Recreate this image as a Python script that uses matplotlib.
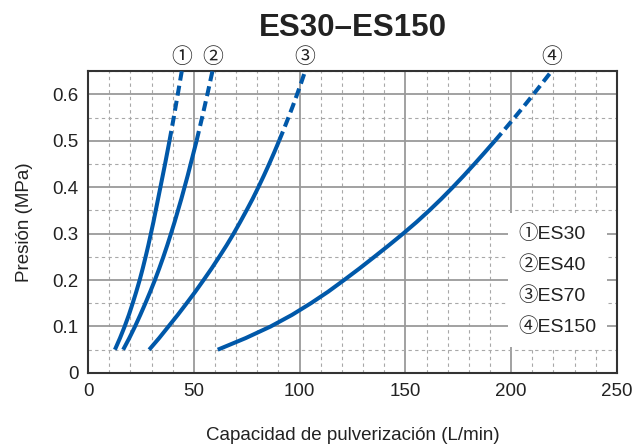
import matplotlib
matplotlib.use("Agg")
import matplotlib.pyplot as plt
from matplotlib.patches import Rectangle
from matplotlib.ticker import MultipleLocator

plt.rcParams['font.family'] = ['Liberation Sans', 'Noto Sans CJK JP', 'DejaVu Sans']

# pressure levels (MPa), 0.05 to 0.65 in steps of 0.025
pressure = [0.050, 0.075, 0.100, 0.125, 0.150, 0.175, 0.200, 0.225, 0.250,
            0.275, 0.300, 0.325, 0.350, 0.375, 0.400, 0.425, 0.450, 0.475,
            0.500, 0.525, 0.550, 0.575, 0.600, 0.625, 0.650]

# spray capacity (L/min) at each pressure level
es30 = [12.7, 15.1, 17.3, 19.3, 21.1, 22.8, 24.4, 25.85, 27.2, 28.5, 29.7,
        30.9, 32.0, 33.1, 34.2, 35.3, 36.4, 37.45, 38.5, 39.5, 40.5, 41.45,
        42.4, 43.35, 44.3]
es40 = [16.6, 19.5, 22.2, 24.7, 27.1, 29.4, 31.6, 33.65, 35.6, 37.45, 39.2,
        40.9, 42.5, 44.1, 45.6, 47.1, 48.5, 49.9, 51.3, 52.6, 53.9, 55.15,
        56.4, 57.6, 58.8]
es70 = [28.9, 33.6, 38.0, 42.4, 46.6, 50.7, 54.6, 58.4, 62.0, 65.5, 68.8,
        71.9, 74.9, 77.8, 80.5, 83.1, 85.6, 88.0, 90.3, 92.55, 94.7, 96.8,
        98.8, 100.75, 102.6]
es150 = [61.3, 74.5, 86.3, 96.4, 105.3, 113.5, 121.0, 128.3, 135.3, 142.2,
         148.9, 155.3, 161.3, 167.0, 172.4, 177.6, 182.6, 187.5, 192.3,
         197.0, 201.6, 206.1, 210.5, 214.8, 219.1]

series = [es30, es40, es70, es150]
marks = ['①', '②', '③', '④']
names = ['ES30', 'ES40', 'ES70', 'ES150']
p_solid_max = 0.50

blue = '#0058a9'

fig = plt.figure(figsize=(6.38, 4.45), dpi=100)
ax = fig.add_axes([0.138, 0.162, 0.829, 0.678])

for flow, mark in zip(series, marks):
    solid = [(q, p) for q, p in zip(flow, pressure) if p <= p_solid_max]
    dashed = [(q, p) for q, p in zip(flow, pressure) if p >= p_solid_max]
    ax.plot([s[0] for s in solid], [s[1] for s in solid], color=blue,
            lw=2.9, solid_capstyle='butt', solid_joinstyle='round', zorder=4)
    ln, = ax.plot([d[0] for d in dashed], [d[1] for d in dashed], color=blue,
                  lw=2.9, zorder=4, dash_capstyle='butt')
    ln.set_dashes((2.5, 1.3))
    ax.annotate(mark, xy=(flow[-1], pressure[-1]), xytext=(0, 10),
                textcoords='offset points', ha='center', va='center',
                fontsize=15, color='#222222', annotation_clip=False)

ax.set_xlim(0, 250)
ax.set_ylim(0, 0.65)
ax.xaxis.set_major_locator(MultipleLocator(50))
ax.xaxis.set_minor_locator(MultipleLocator(10))
ax.yaxis.set_major_locator(MultipleLocator(0.1))
ax.yaxis.set_minor_locator(MultipleLocator(0.05))
ax.set_yticks([0, 0.1, 0.2, 0.3, 0.4, 0.5, 0.6])
ax.set_yticklabels(['0', '0.1', '0.2', '0.3', '0.4', '0.5', '0.6'])

ax.grid(which='major', color='#9a9a9a', lw=1.3, ls='-', zorder=1)
ax.grid(which='minor', color='#a8a8a8', lw=0.8, ls=(0, (3, 3)), zorder=1)
ax.set_axisbelow(True)
ax.tick_params(which='both', length=0, labelsize=13.5, pad=7, colors='#222222')

for sp in ax.spines.values():
    sp.set_color('#333333')
    sp.set_linewidth(1.5)

# key box in the lower right corner
ax.add_patch(Rectangle((198.5, 0.056), 47, 0.289, facecolor='white',
                       edgecolor='none', zorder=2))
for i, (mark, name) in enumerate(zip(marks, names)):
    ax.text(203.5, 0.30 - i * 0.0667, mark + name, fontsize=14,
            color='#222222', va='center', ha='left', zorder=3)

ax.set_title('ES30–ES150', fontsize=22.5, fontweight='bold', pad=25,
             color='#222222')
ax.set_xlabel('Capacidad de pulverización (L/min)', fontsize=13.5,
              labelpad=20, color='#222222')
ax.set_ylabel('Presión (MPa)', fontsize=13.5, labelpad=14, color='#222222')

fig.savefig('out.png', dpi=100)
